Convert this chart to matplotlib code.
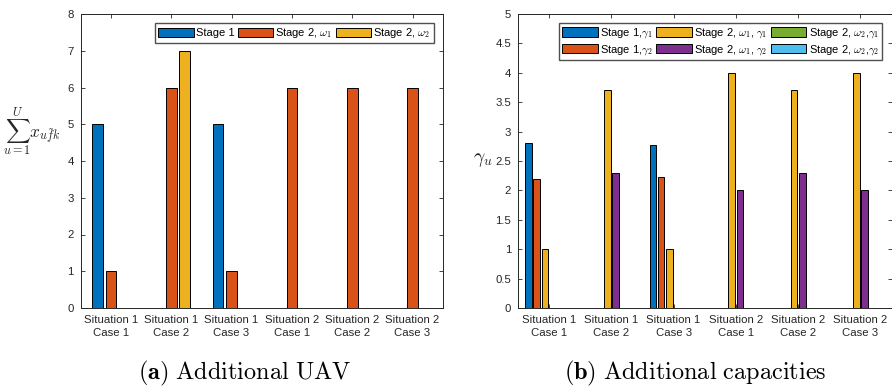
import matplotlib
matplotlib.use("Agg")
import matplotlib.pyplot as plt
import numpy as np
from matplotlib.ticker import FormatStrFormatter

plt.rcParams['mathtext.fontset'] = 'cm'
plt.rcParams['font.family'] = ['Liberation Sans', 'DejaVu Sans']

# categories shared by both panels
cases = ["Situation 1\nCase 1", "Situation 1\nCase 2", "Situation 1\nCase 3",
         "Situation 2\nCase 1", "Situation 2\nCase 2", "Situation 2\nCase 3"]

# panel (a): additional UAVs
uav_stage1 = [5, 0, 5, 0, 0, 0]
uav_stage2_w1 = [1, 6, 1, 6, 6, 6]
uav_stage2_w2 = [0, 7, 0, 0, 0, 0]
uav_labels = ["Stage 1", r"Stage 2, $\omega_1$", r"Stage 2, $\omega_2$"]

# panel (b): additional capacities
cap_s1_g1 = [2.8, 0, 2.78, 0, 0, 0]
cap_s1_g2 = [2.2, 0, 2.22, 0, 0, 0]
cap_w1_g1 = [1, 3.7, 1, 4, 3.7, 4]
cap_w1_g2 = [0, 2.3, 0, 2, 2.3, 2]
cap_w2_g1 = [0, 0, 0, 0, 0, 0]
cap_w2_g2 = [0, 0, 0, 0, 0, 0]
cap_labels = [r"Stage 1,$\gamma_1$", r"Stage 1,$\gamma_2$",
              r"Stage 2, $\omega_1$, $\gamma_1$", r"Stage 2, $\omega_1$, $\gamma_2$",
              r"Stage 2, $\omega_2$,$\gamma_1$", r"Stage 2, $\omega_2$,$\gamma_2$"]

# matlab default colour order
colors = ["#0072BD", "#D95319", "#EDB120", "#7E2F8E", "#77AC30", "#4DBEEE"]
axcol = "#262626"


def grouped_bars(ax, series, labels):
    n = len(series)
    x = np.arange(1, len(cases) + 1)
    gw = min(0.8, n / (n + 1.5))
    step = gw / n
    for i, (vals, lab) in enumerate(zip(series, labels)):
        off = (i - (n - 1) / 2) * step
        ax.bar(x + off, vals, width=step * 0.8, color=colors[i],
               edgecolor="black", linewidth=0.7, label=lab, zorder=2)
    ax.set_xlim(0.5, len(cases) + 0.5)
    ax.set_xticks(x)
    ax.set_xticklabels(cases, linespacing=1.35)
    ax.tick_params(direction="in", top=True, right=True, length=3,
                   labelsize=8.2, colors=axcol, width=0.6, pad=5)
    for s in ax.spines.values():
        s.set_color(axcol)
        s.set_linewidth(0.7)


legend_style = dict(loc="upper right", fontsize=8, frameon=True, fancybox=False,
                    edgecolor=axcol, handlelength=3.2, handleheight=0.95,
                    handletextpad=0.2, columnspacing=0.3, borderpad=0.3,
                    borderaxespad=0.0)

fig = plt.figure(figsize=(8.92, 3.91), dpi=100)

ax1 = fig.add_axes([80.7 / 892, 83 / 391, 362 / 892, 294 / 391])
grouped_bars(ax1, [uav_stage1, uav_stage2_w1, uav_stage2_w2], uav_labels)
ax1.set_ylim(0, 8)
ax1.set_yticks(range(0, 9))
ax1.set_ylabel(r"$\sum_{u=1}^{U} x_{u\tilde{f}k}$", rotation=0, fontsize=12.5,
               color=axcol, va="center", ha="center")
ax1.yaxis.set_label_coords(-0.135, 0.6)
ax1.legend(ncol=3, bbox_to_anchor=(0.975, 0.97), **legend_style)

ax2 = fig.add_axes([518 / 892, 83 / 391, 373.5 / 892, 294 / 391])
grouped_bars(ax2, [cap_s1_g1, cap_s1_g2, cap_w1_g1, cap_w1_g2, cap_w2_g1, cap_w2_g2],
             cap_labels)
ax2.set_ylim(0, 5)
ax2.set_yticks(np.arange(0, 5.01, 0.5))
ax2.yaxis.set_major_formatter(FormatStrFormatter("%g"))
ax2.set_ylabel(r"$\gamma_u$", rotation=0, fontsize=14, color=axcol, va="center")
ax2.yaxis.set_label_coords(-0.095, 0.505)
ax2.legend(ncol=3, labelspacing=0.25, bbox_to_anchor=(0.975, 0.97), **legend_style)

fig.text(245 / 892, 1 - 373 / 391, r"$\mathbf{(a)}$ $\mathrm{Additional\ UAV}$",
         ha="center", va="center", fontsize=17.5)
fig.text(695 / 892, 1 - 373 / 391, r"$\mathbf{(b)}$ $\mathrm{Additional\ capacities}$",
         ha="center", va="center", fontsize=17.5)

fig.savefig("out.png", dpi=100)
